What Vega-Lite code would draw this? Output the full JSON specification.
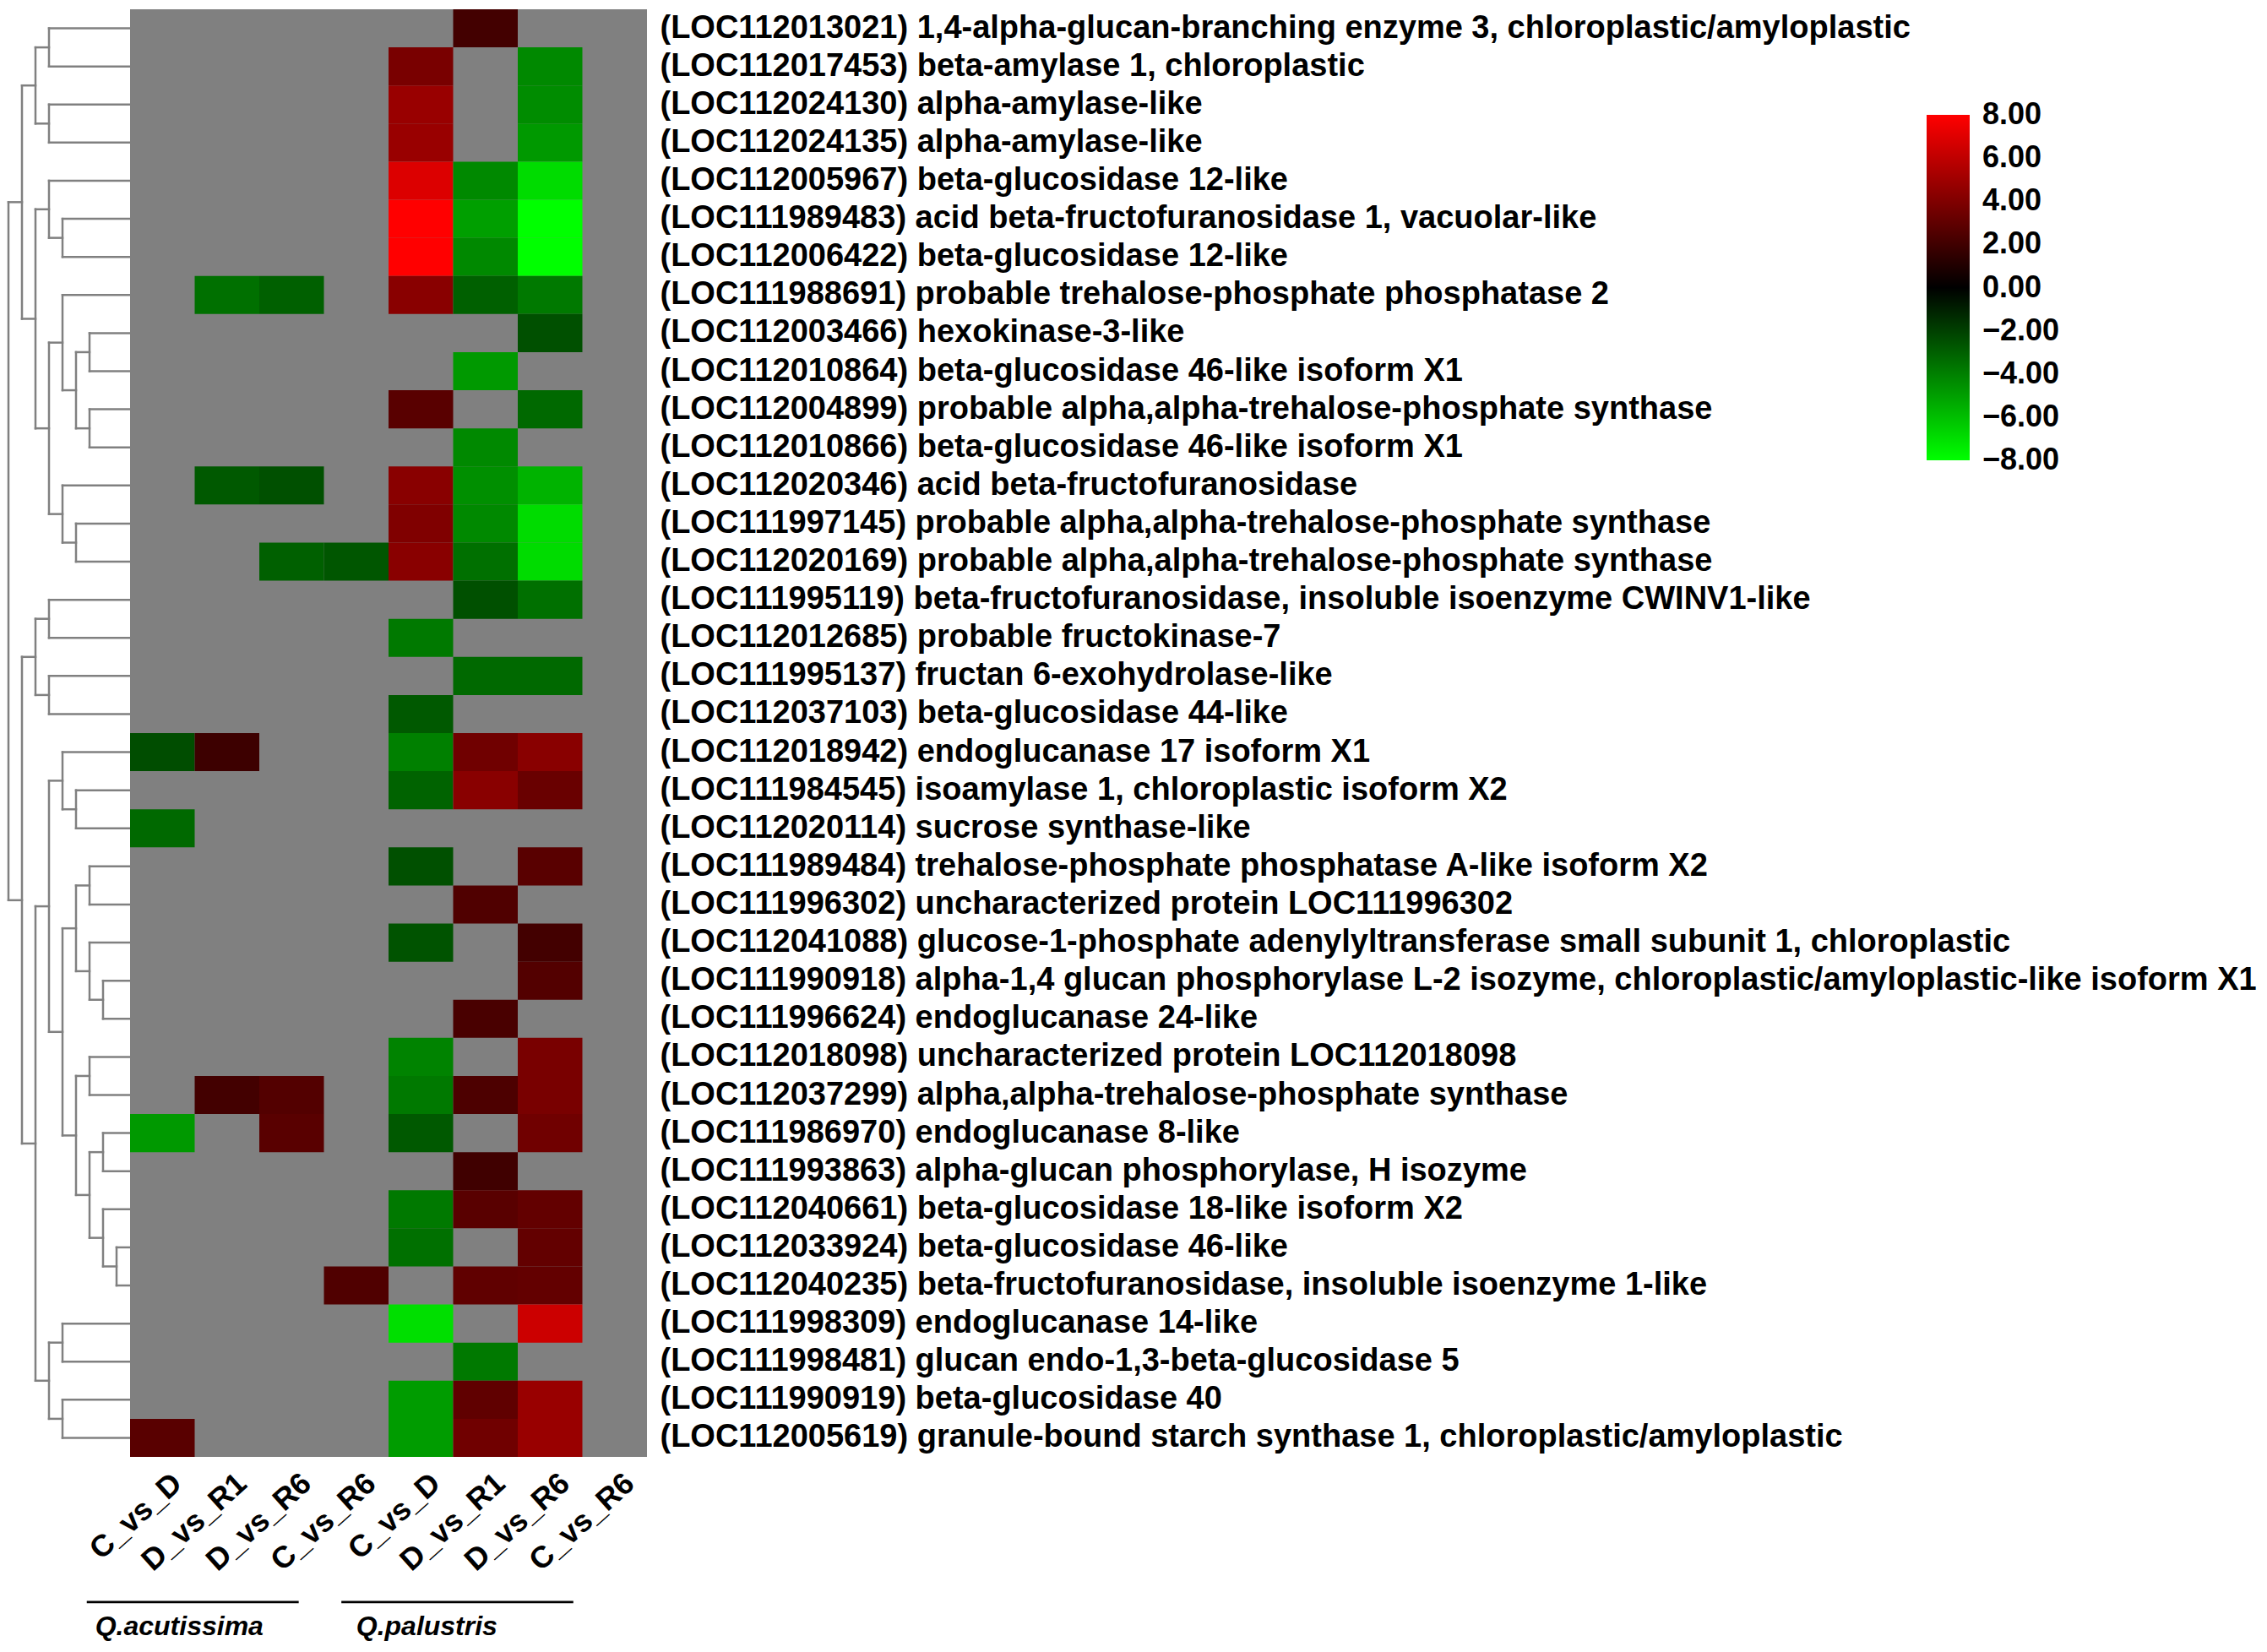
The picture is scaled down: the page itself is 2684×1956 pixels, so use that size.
{
  "$schema": "https://vega.github.io/schema/vega-lite/v6.json",
  "padding": {"left": 0, "top": 11, "right": 0, "bottom": 0},
  "background": "white",
  "spacing": 0,
  "bounds": "flush",
  "config": {"view": {"stroke": null}, "font": "Liberation Sans"},
  "datasets": {
    "genes": [
      {"r": 1, "name": "(LOC112013021) 1,4-alpha-glucan-branching enzyme 3, chloroplastic/amyloplastic"},
      {"r": 2, "name": "(LOC112017453) beta-amylase 1, chloroplastic"},
      {"r": 3, "name": "(LOC112024130) alpha-amylase-like"},
      {"r": 4, "name": "(LOC112024135) alpha-amylase-like"},
      {"r": 5, "name": "(LOC112005967) beta-glucosidase 12-like"},
      {"r": 6, "name": "(LOC111989483) acid beta-fructofuranosidase 1, vacuolar-like"},
      {"r": 7, "name": "(LOC112006422) beta-glucosidase 12-like"},
      {"r": 8, "name": "(LOC111988691) probable trehalose-phosphate phosphatase 2"},
      {"r": 9, "name": "(LOC112003466) hexokinase-3-like"},
      {"r": 10, "name": "(LOC112010864) beta-glucosidase 46-like isoform X1"},
      {"r": 11, "name": "(LOC112004899) probable alpha,alpha-trehalose-phosphate synthase"},
      {"r": 12, "name": "(LOC112010866) beta-glucosidase 46-like isoform X1"},
      {"r": 13, "name": "(LOC112020346) acid beta-fructofuranosidase"},
      {"r": 14, "name": "(LOC111997145) probable alpha,alpha-trehalose-phosphate synthase"},
      {"r": 15, "name": "(LOC112020169) probable alpha,alpha-trehalose-phosphate synthase"},
      {"r": 16, "name": "(LOC111995119) beta-fructofuranosidase, insoluble isoenzyme CWINV1-like"},
      {"r": 17, "name": "(LOC112012685) probable fructokinase-7"},
      {"r": 18, "name": "(LOC111995137) fructan 6-exohydrolase-like"},
      {"r": 19, "name": "(LOC112037103) beta-glucosidase 44-like"},
      {"r": 20, "name": "(LOC112018942) endoglucanase 17 isoform X1"},
      {"r": 21, "name": "(LOC111984545) isoamylase 1, chloroplastic isoform X2"},
      {"r": 22, "name": "(LOC112020114) sucrose synthase-like"},
      {"r": 23, "name": "(LOC111989484) trehalose-phosphate phosphatase A-like isoform X2"},
      {"r": 24, "name": "(LOC111996302) uncharacterized protein LOC111996302"},
      {"r": 25, "name": "(LOC112041088) glucose-1-phosphate adenylyltransferase small subunit 1, chloroplastic"},
      {"r": 26, "name": "(LOC111990918) alpha-1,4 glucan phosphorylase L-2 isozyme, chloroplastic/amyloplastic-like isoform X1"},
      {"r": 27, "name": "(LOC111996624) endoglucanase 24-like"},
      {"r": 28, "name": "(LOC112018098) uncharacterized protein LOC112018098"},
      {"r": 29, "name": "(LOC112037299) alpha,alpha-trehalose-phosphate synthase"},
      {"r": 30, "name": "(LOC111986970) endoglucanase 8-like"},
      {"r": 31, "name": "(LOC111993863) alpha-glucan phosphorylase, H isozyme"},
      {"r": 32, "name": "(LOC112040661) beta-glucosidase 18-like isoform X2"},
      {"r": 33, "name": "(LOC112033924) beta-glucosidase 46-like"},
      {"r": 34, "name": "(LOC112040235) beta-fructofuranosidase, insoluble isoenzyme 1-like"},
      {"r": 35, "name": "(LOC111998309) endoglucanase 14-like"},
      {"r": 36, "name": "(LOC111998481) glucan endo-1,3-beta-glucosidase 5"},
      {"r": 37, "name": "(LOC111990919) beta-glucosidase 40"},
      {"r": 38, "name": "(LOC112005619) granule-bound starch synthase 1, chloroplastic/amyloplastic"}
    ],
    "cells": [
      {"r": 1, "c": "pD_vs_R1", "v": 2.1},
      {"r": 2, "c": "pC_vs_D", "v": 3.8}, {"r": 2, "c": "pD_vs_R6", "v": -4.3},
      {"r": 3, "c": "pC_vs_D", "v": 4.8}, {"r": 3, "c": "pD_vs_R6", "v": -4.4},
      {"r": 4, "c": "pC_vs_D", "v": 4.8}, {"r": 4, "c": "pD_vs_R6", "v": -4.8},
      {"r": 5, "c": "pC_vs_D", "v": 6.9}, {"r": 5, "c": "pD_vs_R1", "v": -4.3}, {"r": 5, "c": "pD_vs_R6", "v": -6.9},
      {"r": 6, "c": "pC_vs_D", "v": 8}, {"r": 6, "c": "pD_vs_R1", "v": -5.0}, {"r": 6, "c": "pD_vs_R6", "v": -8},
      {"r": 7, "c": "pC_vs_D", "v": 8}, {"r": 7, "c": "pD_vs_R1", "v": -4.3}, {"r": 7, "c": "pD_vs_R6", "v": -8},
      {"r": 8, "c": "aD_vs_R1", "v": -3.5}, {"r": 8, "c": "aD_vs_R6", "v": -3.0}, {"r": 8, "c": "pC_vs_D", "v": 4.3}, {"r": 8, "c": "pD_vs_R1", "v": -3.0}, {"r": 8, "c": "pD_vs_R6", "v": -3.8},
      {"r": 9, "c": "pD_vs_R6", "v": -2.5},
      {"r": 10, "c": "pD_vs_R1", "v": -4.8},
      {"r": 11, "c": "pC_vs_D", "v": 2.8}, {"r": 11, "c": "pD_vs_R6", "v": -3.3},
      {"r": 12, "c": "pD_vs_R1", "v": -4.3},
      {"r": 13, "c": "aD_vs_R1", "v": -2.8}, {"r": 13, "c": "aD_vs_R6", "v": -2.5}, {"r": 13, "c": "pC_vs_D", "v": 4.3}, {"r": 13, "c": "pD_vs_R1", "v": -4.5}, {"r": 13, "c": "pD_vs_R6", "v": -5.6},
      {"r": 14, "c": "pC_vs_D", "v": 4.0}, {"r": 14, "c": "pD_vs_R1", "v": -4.3}, {"r": 14, "c": "pD_vs_R6", "v": -6.9},
      {"r": 15, "c": "aD_vs_R6", "v": -3.0}, {"r": 15, "c": "aC_vs_R6", "v": -2.7}, {"r": 15, "c": "pC_vs_D", "v": 4.3}, {"r": 15, "c": "pD_vs_R1", "v": -3.5}, {"r": 15, "c": "pD_vs_R6", "v": -6.9},
      {"r": 16, "c": "pD_vs_R1", "v": -2.5}, {"r": 16, "c": "pD_vs_R6", "v": -3.5},
      {"r": 17, "c": "pC_vs_D", "v": -3.8},
      {"r": 18, "c": "pD_vs_R1", "v": -3.3}, {"r": 18, "c": "pD_vs_R6", "v": -3.3},
      {"r": 19, "c": "pC_vs_D", "v": -2.8},
      {"r": 20, "c": "aC_vs_D", "v": -2.4}, {"r": 20, "c": "aD_vs_R1", "v": 1.9}, {"r": 20, "c": "pC_vs_D", "v": -4.0}, {"r": 20, "c": "pD_vs_R1", "v": 3.5}, {"r": 20, "c": "pD_vs_R6", "v": 4.3},
      {"r": 21, "c": "pC_vs_D", "v": -3.1}, {"r": 21, "c": "pD_vs_R1", "v": 4.3}, {"r": 21, "c": "pD_vs_R6", "v": 3.3},
      {"r": 22, "c": "aC_vs_D", "v": -3.3},
      {"r": 23, "c": "pC_vs_D", "v": -2.5}, {"r": 23, "c": "pD_vs_R6", "v": 2.8},
      {"r": 24, "c": "pD_vs_R1", "v": 2.5},
      {"r": 25, "c": "pC_vs_D", "v": -2.6}, {"r": 25, "c": "pD_vs_R6", "v": 2.1},
      {"r": 26, "c": "pD_vs_R6", "v": 2.6},
      {"r": 27, "c": "pD_vs_R1", "v": 2.3},
      {"r": 28, "c": "pC_vs_D", "v": -4.1}, {"r": 28, "c": "pD_vs_R6", "v": 3.8},
      {"r": 29, "c": "aD_vs_R1", "v": 2.1}, {"r": 29, "c": "aD_vs_R6", "v": 2.6}, {"r": 29, "c": "pC_vs_D", "v": -3.8}, {"r": 29, "c": "pD_vs_R1", "v": 2.4}, {"r": 29, "c": "pD_vs_R6", "v": 3.8},
      {"r": 30, "c": "aC_vs_D", "v": -4.8}, {"r": 30, "c": "aD_vs_R6", "v": 2.8}, {"r": 30, "c": "pC_vs_D", "v": -2.8}, {"r": 30, "c": "pD_vs_R6", "v": 3.5},
      {"r": 31, "c": "pD_vs_R1", "v": 2.0},
      {"r": 32, "c": "pC_vs_D", "v": -3.8}, {"r": 32, "c": "pD_vs_R1", "v": 2.8}, {"r": 32, "c": "pD_vs_R6", "v": 3.1},
      {"r": 33, "c": "pC_vs_D", "v": -3.5}, {"r": 33, "c": "pD_vs_R6", "v": 3.1},
      {"r": 34, "c": "aC_vs_R6", "v": 2.5}, {"r": 34, "c": "pD_vs_R1", "v": 3.0}, {"r": 34, "c": "pD_vs_R6", "v": 3.1},
      {"r": 35, "c": "pC_vs_D", "v": -7.0}, {"r": 35, "c": "pD_vs_R6", "v": 6.4},
      {"r": 36, "c": "pD_vs_R1", "v": -3.8},
      {"r": 37, "c": "pC_vs_D", "v": -4.9}, {"r": 37, "c": "pD_vs_R1", "v": 3.0}, {"r": 37, "c": "pD_vs_R6", "v": 4.8},
      {"r": 38, "c": "aC_vs_D", "v": 2.8}, {"r": 38, "c": "pC_vs_D", "v": -4.9}, {"r": 38, "c": "pD_vs_R1", "v": 3.5}, {"r": 38, "c": "pD_vs_R6", "v": 4.8}
    ],
    "nodes": [
      {"H": 6, "y1": 1, "h1": 0, "y2": 2, "h2": 0},
      {"H": 6, "y1": 3, "h1": 0, "y2": 4, "h2": 0},
      {"H": 7, "y1": 1.5, "h1": 6, "y2": 3.5, "h2": 6},
      {"H": 5, "y1": 6, "h1": 0, "y2": 7, "h2": 0},
      {"H": 6, "y1": 5, "h1": 0, "y2": 6.5, "h2": 5},
      {"H": 3, "y1": 9, "h1": 0, "y2": 10, "h2": 0},
      {"H": 3, "y1": 11, "h1": 0, "y2": 12, "h2": 0},
      {"H": 4, "y1": 9.5, "h1": 3, "y2": 11.5, "h2": 3},
      {"H": 5, "y1": 8, "h1": 0, "y2": 10.5, "h2": 4},
      {"H": 4, "y1": 14, "h1": 0, "y2": 15, "h2": 0},
      {"H": 5, "y1": 13, "h1": 0, "y2": 14.5, "h2": 4},
      {"H": 6, "y1": 9.25, "h1": 5, "y2": 13.75, "h2": 5},
      {"H": 7, "y1": 5.75, "h1": 6, "y2": 11.5, "h2": 6},
      {"H": 8, "y1": 2.5, "h1": 7, "y2": 8.625, "h2": 7},
      {"H": 6, "y1": 16, "h1": 0, "y2": 17, "h2": 0},
      {"H": 6, "y1": 18, "h1": 0, "y2": 19, "h2": 0},
      {"H": 7, "y1": 16.5, "h1": 6, "y2": 18.5, "h2": 6},
      {"H": 4, "y1": 21, "h1": 0, "y2": 22, "h2": 0},
      {"H": 5, "y1": 20, "h1": 0, "y2": 21.5, "h2": 4},
      {"H": 3, "y1": 23, "h1": 0, "y2": 24, "h2": 0},
      {"H": 2, "y1": 26, "h1": 0, "y2": 27, "h2": 0},
      {"H": 3, "y1": 25, "h1": 0, "y2": 26.5, "h2": 2},
      {"H": 4, "y1": 23.5, "h1": 3, "y2": 25.75, "h2": 3},
      {"H": 3, "y1": 28, "h1": 0, "y2": 29, "h2": 0},
      {"H": 2, "y1": 30, "h1": 0, "y2": 31, "h2": 0},
      {"H": 1, "y1": 33, "h1": 0, "y2": 34, "h2": 0},
      {"H": 2, "y1": 32, "h1": 0, "y2": 33.5, "h2": 1},
      {"H": 3, "y1": 30.5, "h1": 2, "y2": 32.75, "h2": 2},
      {"H": 4, "y1": 28.5, "h1": 3, "y2": 31.625, "h2": 3},
      {"H": 5, "y1": 24.625, "h1": 4, "y2": 30.0625, "h2": 4},
      {"H": 6, "y1": 20.75, "h1": 5, "y2": 27.34375, "h2": 5},
      {"H": 5, "y1": 35, "h1": 0, "y2": 36, "h2": 0},
      {"H": 5, "y1": 37, "h1": 0, "y2": 38, "h2": 0},
      {"H": 6, "y1": 35.5, "h1": 5, "y2": 37.5, "h2": 5},
      {"H": 7, "y1": 24.046875, "h1": 6, "y2": 36.5, "h2": 6},
      {"H": 8, "y1": 17.5, "h1": 7, "y2": 30.2734375, "h2": 7},
      {"H": 9, "y1": 5.5625, "h1": 8, "y2": 23.88671875, "h2": 8}
    ],
    "groups": [
      {"g": "Q.acutissima", "x1": -0.67, "x2": 2.61, "tx": -0.54, "ly": 41.81, "ty": 42.46},
      {"g": "Q.palustris", "x1": 3.27, "x2": 6.86, "tx": 3.5, "ly": 41.81, "ty": 42.46}
    ],
    "frame": [
      {"x0": 0, "x1": 8, "y0": 0, "y1": 38}
    ]
  },
  "hconcat": [
    {
      "width": 154,
      "height": 1714,
      "data": {"name": "nodes"},
      "layer": [
        {
          "mark": {"type": "rule", "color": "#808080", "strokeWidth": 2.5, "strokeCap": "square"},
          "encoding": {
            "x": {"field": "H", "type": "quantitative", "scale": {"domain": [0, 9.625], "reverse": true, "nice": false, "zero": false}, "axis": null},
            "y": {"field": "y1", "type": "quantitative", "scale": {"domain": [0.5, 38.5], "reverse": true, "nice": false, "zero": false}, "axis": null},
            "y2": {"field": "y2"}
          }
        },
        {
          "mark": {"type": "rule", "color": "#808080", "strokeWidth": 2.5, "strokeCap": "square"},
          "encoding": {
            "x": {"field": "h1", "type": "quantitative"},
            "x2": {"field": "H"},
            "y": {"field": "y1", "type": "quantitative"}
          }
        },
        {
          "mark": {"type": "rule", "color": "#808080", "strokeWidth": 2.5, "strokeCap": "square"},
          "encoding": {
            "x": {"field": "h2", "type": "quantitative"},
            "x2": {"field": "H"},
            "y": {"field": "y2", "type": "quantitative"}
          }
        }
      ]
    },
    {
      "width": 612,
      "height": 1714,
      "layer": [
        {
          "data": {"name": "frame"},
          "mark": {"type": "rect", "color": "#808080"},
          "encoding": {
            "x": {"field": "x0", "type": "quantitative", "scale": {"domain": [0, 8], "nice": false, "zero": false}, "axis": null},
            "x2": {"field": "x1"},
            "y": {"field": "y0", "type": "quantitative", "scale": {"domain": [0, 38], "reverse": true, "nice": false, "zero": false}, "axis": null},
            "y2": {"field": "y1"}
          }
        },
        {
          "data": {"name": "cells"},
          "transform": [
            {"lookup": "r", "from": {"data": {"name": "genes"}, "key": "r", "fields": ["name"]}}
          ],
          "mark": {"type": "rect"},
          "encoding": {
            "x": {
              "field": "c", "type": "nominal",
              "scale": {"domain": ["aC_vs_D", "aD_vs_R1", "aD_vs_R6", "aC_vs_R6", "pC_vs_D", "pD_vs_R1", "pD_vs_R6", "pC_vs_R6"], "paddingInner": 0, "paddingOuter": 0},
              "axis": {"title": null, "orient": "bottom", "ticks": false, "domain": false, "labelAngle": -42, "labelAlign": "right", "labelBaseline": "middle", "labelOffset": 18, "labelPadding": 26, "labelFont": "Liberation Sans", "labelFontWeight": "bold", "labelFontSize": 36, "labelColor": "black", "labelExpr": "slice(datum.value, 1)"}
            },
            "y": {
              "field": "name", "type": "nominal",
              "sort": {"field": "r", "op": "min"},
              "scale": {"paddingInner": 0, "paddingOuter": 0},
              "axis": {"title": null, "orient": "right", "ticks": false, "domain": false, "labelPadding": 15, "labelLimit": 4000, "labelFont": "Liberation Sans", "labelFontWeight": "bold", "labelFontSize": 38, "labelColor": "black"}
            },
            "color": {
              "field": "v", "type": "quantitative",
              "scale": {"domain": [-8, 0, 8], "range": ["#00ff00", "#000000", "#ff0000"], "interpolate": "rgb"},
              "legend": {"orient": "none", "legendX": 2281, "legendY": 125, "direction": "vertical", "title": null, "gradientLength": 409, "gradientThickness": 51, "values": [-8, -6, -4, -2, 0, 2, 4, 6, 8], "format": ".2f", "labelFont": "Liberation Sans", "labelFontWeight": "bold", "labelFontSize": 36, "labelColor": "black", "labelOffset": 15, "labelOverlap": false,
                "encode": {"labels": {"update": {"baseline": {"value": "middle"}}}}}
            }
          }
        },
        {
          "data": {"name": "groups"},
          "layer": [
            {
              "mark": {"type": "rule", "color": "black", "strokeWidth": 2.7},
              "encoding": {
                "x": {"field": "x1", "type": "quantitative", "scale": {"domain": [0, 8], "nice": false, "zero": false}, "axis": null},
                "x2": {"field": "x2"},
                "y": {"field": "ly", "type": "quantitative", "scale": {"domain": [0, 38], "reverse": true, "nice": false, "zero": false}, "axis": null}
              }
            },
            {
              "mark": {"type": "text", "align": "left", "baseline": "middle", "font": "Liberation Sans", "fontWeight": "bold", "fontStyle": "italic", "fontSize": 32, "color": "black"},
              "encoding": {
                "x": {"field": "tx", "type": "quantitative"},
                "y": {"field": "ty", "type": "quantitative"},
                "text": {"field": "g"}
              }
            }
          ]
        }
      ],
      "resolve": {"scale": {"x": "independent", "y": "independent"}}
    }
  ]
}
